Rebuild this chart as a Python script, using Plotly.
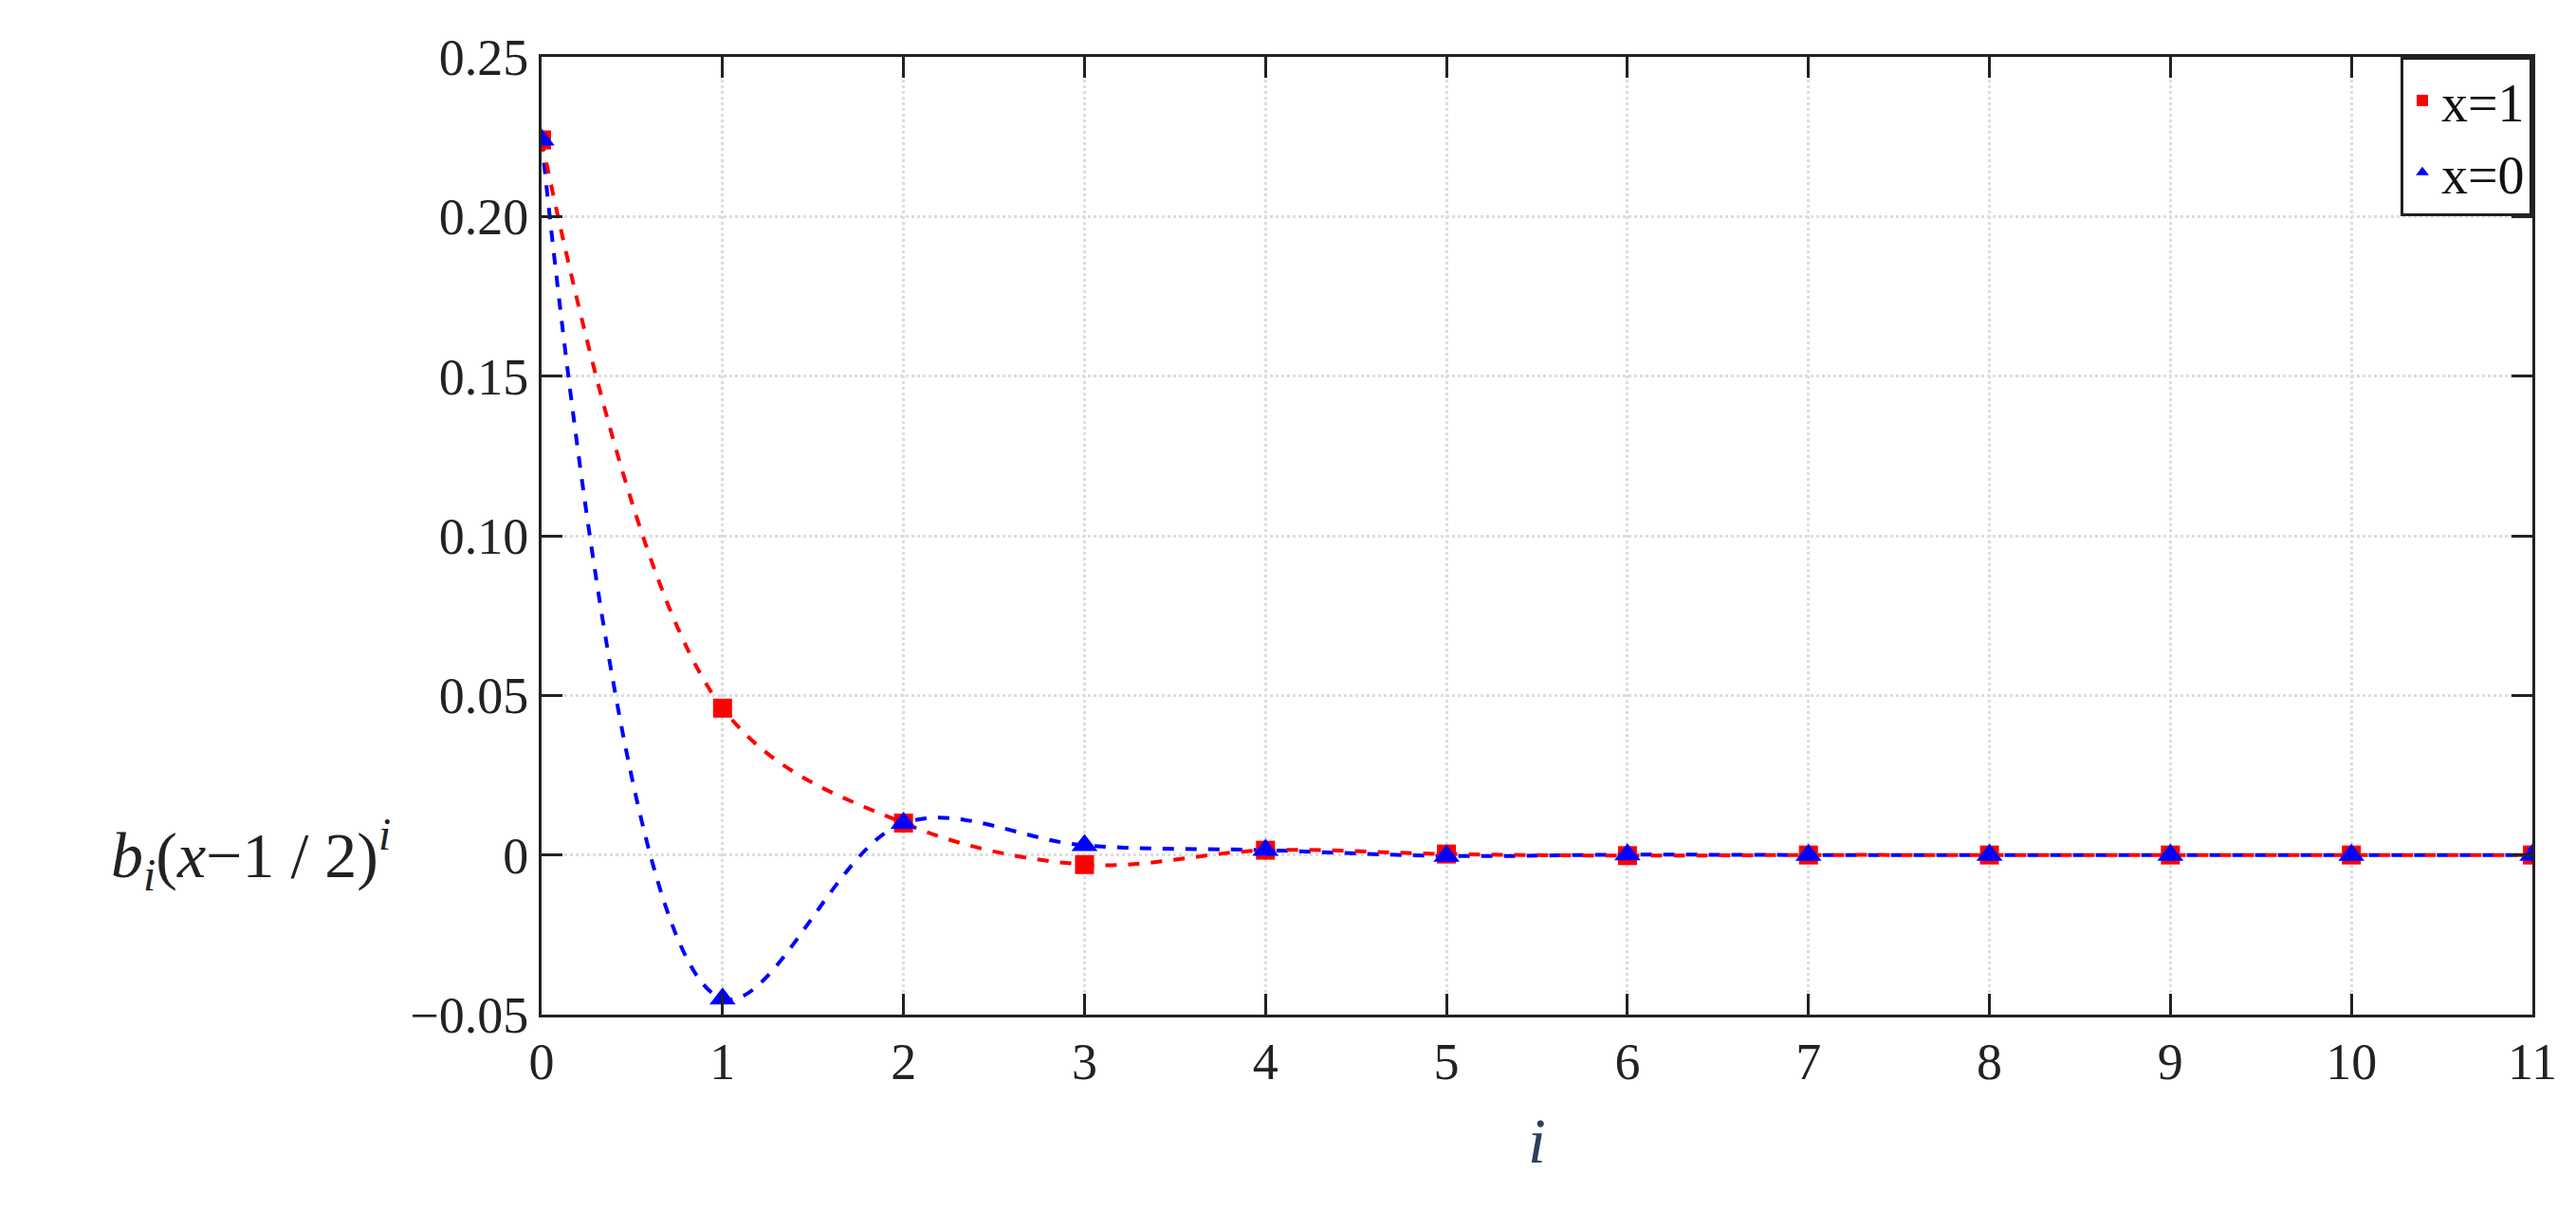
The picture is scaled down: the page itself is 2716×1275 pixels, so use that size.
import plotly.graph_objects as go

i_vals = list(range(12))
x1_vals = [0.224, 0.046, 0.010, -0.003, 0.0015, 0.0003, -0.0002, 0.0, 0.0, 0.0, 0.0, 0.0]
x0_vals = [0.224, -0.045, 0.010, 0.003, 0.0015, -0.0003, 0.0001, 0.0, 0.0, 0.0, 0.0, 0.0]
y_ticks = [-0.05, 0, 0.05, 0.10, 0.15, 0.20, 0.25]
y_labels = ["\u22120.05", "0", "0.05", "0.10", "0.15", "0.20", "0.25"]

font = "Liberation Serif"
fig = go.Figure()
fig.add_trace(go.Scatter(x=i_vals, y=x0_vals, mode="lines", line=dict(color="blue", dash="dash", width=4, shape="spline", smoothing=1.0), showlegend=False))
fig.add_trace(go.Scatter(x=i_vals, y=x1_vals, mode="lines", line=dict(color="red", dash="dash", width=4, shape="spline", smoothing=1.0), showlegend=False))
fig.add_trace(go.Scatter(x=i_vals, y=x1_vals, mode="markers", name="x=1", marker=dict(symbol="square", color="red", size=20)))
fig.add_trace(go.Scatter(x=i_vals, y=x0_vals, mode="markers", name="x=0", marker=dict(symbol="triangle-up", color="blue", size=24)))

ax = dict(showline=True, linecolor="#222", linewidth=3, mirror="ticks", ticks="inside", ticklen=22, tickwidth=3, tickcolor="#222",
          showgrid=True, gridcolor="#dddddd", griddash="dot", gridwidth=3, zeroline=False,
          tickfont=dict(family=font, size=54, color="#222"))
fig.update_xaxes(**ax, range=[0, 11], tickvals=i_vals, title=dict(text="<i>i</i>", font=dict(family=font, size=68), standoff=30))
fig.update_yaxes(**ax, range=[-0.05, 0.25], tickvals=y_ticks, ticktext=y_labels)
fig.add_annotation(xref="paper", yref="y", x=-0.075, y=0, xanchor="right", yanchor="middle", showarrow=False,
                   text="<i>b<sub>i</sub></i>(<i>x</i>\u22121 / 2)<sup><i>i</i></sup>", font=dict(family=font, size=68, color="#222"))
fig.update_layout(width=2716, height=1275, margin=dict(l=563, r=54, t=52, b=213), plot_bgcolor="white", paper_bgcolor="white",
                  legend=dict(x=1, y=1, xanchor="right", yanchor="top", bordercolor="#222", borderwidth=3, bgcolor="white",
                              font=dict(family=font, size=56, color="#111"), itemsizing="constant"))
fig.write_html("out.html")
